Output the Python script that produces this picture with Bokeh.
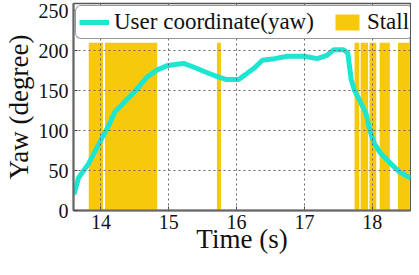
from bokeh.plotting import figure
from bokeh.models import Range1d, Legend, LegendItem, FixedTicker
from bokeh.embed import file_html
from bokeh.resources import INLINE

# Yaw curve (user coordinate)
time_s = [13.60, 13.67, 13.82, 14.01, 14.13, 14.20, 14.35, 14.49, 14.68, 14.83,
          14.97, 15.12, 15.22, 15.41, 15.55, 15.70, 15.84, 16.03, 16.13, 16.27,
          16.38, 16.56, 16.75, 17.00, 17.19, 17.33, 17.43, 17.58, 17.64, 17.69,
          17.74, 17.82, 17.91, 17.96, 18.03, 18.12, 18.27, 18.39, 18.51, 18.57]
yaw_deg = [20, 41, 59, 90, 109, 123, 136, 148, 167, 176,
           181, 183, 184, 178, 173, 168, 164, 164, 170, 179,
           188, 190, 193, 193, 190, 194, 201, 201, 197, 164,
           150, 137, 121, 102, 84, 72, 59, 49, 43, 41]

# Stall intervals
stall_start = [13.82, 14.06, 15.71, 17.74, 17.83, 17.96, 18.11, 18.38]
stall_end = [14.03, 14.83, 15.77, 17.81, 17.94, 18.06, 18.26, 18.55]
stall_level = 210

x_ticks = [14, 15, 16, 17, 18]
y_ticks = [0, 50, 100, 150, 200, 250]
x_title = "Time (s)"
y_title = "Yaw (degree)"

FONT = "Liberation Serif"
CYAN = "#1DE6D0"
YELLOW = "#F6C90D"

p = figure(width=411, height=259, output_backend="svg", toolbar_location=None,
           x_range=Range1d(13.595, 18.565), y_range=Range1d(0, 259),
           min_border_left=67, min_border_right=1, min_border_top=3,
           min_border_bottom=49)

bars = p.quad(left=stall_start, right=stall_end, bottom=0, top=stall_level,
              fill_color=YELLOW, line_color=None)
line = p.line(time_s, yaw_deg, line_color=CYAN, line_width=5)

p.xaxis.ticker = FixedTicker(ticks=x_ticks)
p.yaxis.ticker = FixedTicker(ticks=y_ticks)
p.xaxis.axis_label = x_title
p.yaxis.axis_label = y_title
for ax in (p.xaxis[0], p.yaxis[0]):
    ax.axis_label_text_font = FONT
    ax.axis_label_text_font_style = "normal"
    ax.axis_label_text_font_size = "27px"
    ax.axis_label_text_color = "#111111"
    ax.major_label_text_font = FONT
    ax.major_label_text_font_size = "20px"
    ax.major_label_text_color = "#111111"
    ax.axis_line_color = "#666666"
    ax.axis_line_width = 2
    ax.major_tick_in = 4
    ax.major_tick_out = 0
    ax.major_tick_line_color = "#444444"
    ax.minor_tick_line_color = None
p.xaxis[0].major_label_standoff = 4
p.xaxis[0].axis_label_standoff = -8
p.yaxis[0].major_label_standoff = 5
p.yaxis[0].axis_label_standoff = 2

for g in (p.xgrid[0], p.ygrid[0]):
    g.grid_line_color = "#666666"
    g.grid_line_dash = "2 3"
    g.grid_line_width = 1
    g.level = "guide"

p.outline_line_color = "#555555"
p.outline_line_width = 1.5

legend = Legend(items=[LegendItem(label="User coordinate(yaw)", renderers=[line]),
                       LegendItem(label="Stall", renderers=[bars])],
                orientation="horizontal", location="top_left")
legend.margin = 2
legend.padding = 3
legend.spacing = 18
legend.glyph_width = 30
legend.glyph_height = 20
legend.label_standoff = 5
legend.label_text_font = FONT
legend.label_text_font_size = "23px"
legend.label_text_color = "#111111"
legend.label_height = 24
legend.border_line_color = "#333333"
legend.border_line_width = 1
legend.background_fill_alpha = 1.0
try:
    legend.border_radius = 6
except Exception:
    pass
p.add_layout(legend)

open("out.html", "w").write(file_html(p, INLINE))
